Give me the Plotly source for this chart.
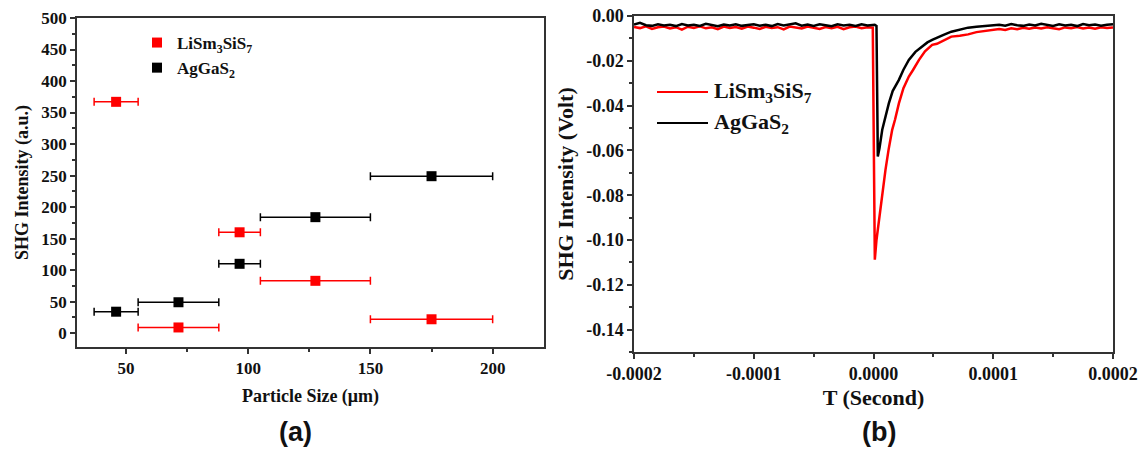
import plotly.graph_objects as go

W, H = 1141, 455

# ---------------- Panel (a): SHG intensity vs particle size ----------------
particle_size = [46, 71.5, 96.5, 127.5, 175]          # µm (range centres)
size_err = [9, 16.5, 8.5, 22.5, 25]                    # half-width of size range
lism_shg = [367, 9, 160, 83, 22]                       # LiSm3SiS7 (a.u.)
aggas_shg = [34, 49, 110, 184, 249]                    # AgGaS2 (a.u.)
a_xticks = [50, 100, 150, 200]
a_yticks = [0, 50, 100, 150, 200, 250, 300, 350, 400, 450, 500]

# ---------------- Panel (b): SHG signal traces (oscilloscope) ----------------
lism_t_us = [-200, -195, -190, -185, -180, -175, -170, -165, -160, -155,
             -150, -145, -140, -135, -130, -125, -120, -115, -110, -105,
             -100, -95, -90, -85, -80, -75, -70, -65, -60, -55,
             -50, -45, -40, -35, -30, -25, -20, -15, -10, -5, -0.6,
             1.1, 2.5, 4.5, 7, 10, 12.5, 15.6, 18, 21.2, 25, 29.5, 33, 38, 43,
             49, 53, 58, 65, 72, 79, 86, 93, 100,
             105, 110, 115, 120, 125, 130, 135, 140, 145, 150,
             155, 160, 165, 170, 175, 180, 185, 190, 195, 200]
lism_volt = [-0.0049, -0.0054, -0.0046, -0.0058, -0.0050, -0.0047, -0.0056, -0.0050, -0.0061, -0.0048,
             -0.0053, -0.0046, -0.0055, -0.0050, -0.0059, -0.0047, -0.0053, -0.0049, -0.0057, -0.0047,
             -0.0052, -0.0058, -0.0048, -0.0054, -0.0050, -0.0060, -0.0047, -0.0052, -0.0056, -0.0047,
             -0.0051, -0.0058, -0.0049, -0.0054, -0.0048, -0.0059, -0.0050, -0.0047, -0.0055, -0.0050, -0.0052,
             -0.1088, -0.1000, -0.0910, -0.0800, -0.0687, -0.0600, -0.0508, -0.0462, -0.0390, -0.0322,
             -0.0270, -0.0241, -0.0196, -0.0158, -0.0129, -0.0124, -0.0110, -0.0092, -0.0088, -0.0082,
             -0.0072, -0.0066, -0.0063,
             -0.0058, -0.0062, -0.0055, -0.0059, -0.0053, -0.0057, -0.0051, -0.0056, -0.0050, -0.0055,
             -0.0059, -0.0051, -0.0055, -0.0049, -0.0056, -0.0051, -0.0057, -0.0050, -0.0054, -0.0051]

aggas_t_us = [-200, -195, -190, -185, -180, -175, -170, -165, -160, -155,
              -150, -145, -140, -135, -130, -125, -120, -115, -110, -105,
              -100, -95, -90, -85, -80, -75, -70, -65, -60, -55,
              -50, -45, -40, -35, -30, -25, -20, -15, -10, -5,
              1, 2.5, 3.6, 5, 7.3, 10, 12.8, 16, 21.2, 25, 29.5, 35, 40.7, 45,
              49, 54, 58, 65, 72, 79, 86, 94, 100,
              105, 110, 115, 120, 125, 130, 135, 140, 145, 150,
              155, 160, 165, 170, 175, 180, 185, 190, 195, 200]
aggas_volt = [-0.0038, -0.0030, -0.0041, -0.0044, -0.0037, -0.0042, -0.0039, -0.0045, -0.0036, -0.0042,
              -0.0039, -0.0044, -0.0035, -0.0041, -0.0046, -0.0038, -0.0042, -0.0037, -0.0044, -0.0040,
              -0.0037, -0.0043, -0.0039, -0.0045, -0.0036, -0.0042, -0.0039, -0.0033, -0.0043, -0.0038,
              -0.0044, -0.0037, -0.0041, -0.0046, -0.0037, -0.0042, -0.0039, -0.0044, -0.0037, -0.0042,
              -0.0039, -0.0044, -0.0627, -0.0590, -0.0508, -0.0445, -0.0390, -0.0335, -0.0285, -0.0240,
              -0.0196, -0.0160, -0.0137, -0.0118, -0.0107, -0.0094, -0.0085, -0.0070, -0.0062, -0.0052,
              -0.0048, -0.0044, -0.0041,
              -0.0039, -0.0043, -0.0036, -0.0041, -0.0044, -0.0038, -0.0042, -0.0035, -0.0040, -0.0044,
              -0.0037, -0.0042, -0.0039, -0.0045, -0.0036, -0.0041, -0.0038, -0.0043, -0.0039, -0.0037]
b_xticks = [-0.0002, -0.0001, 0.0, 0.0001, 0.0002]
b_xticktext = ["-0.0002", "-0.0001", "0.0000", "0.0001", "0.0002"]
b_yticks = [0.0, -0.02, -0.04, -0.06, -0.08, -0.10, -0.12, -0.14]
b_yticktext = ["0.00", "-0.02", "-0.04", "-0.06", "-0.08", "-0.10", "-0.12", "-0.14"]

names = ["LiSm<sub>3</sub>SiS<sub>7</sub>", "AgGaS<sub>2</sub>"]
RED, BLACK = "#ff0000", "#000000"
SERIF = "Liberation Serif"
AXC = "#333333"

fig = go.Figure()

# panel (a)
for yv, col, nm in [(lism_shg, RED, names[0]), (aggas_shg, BLACK, names[1])]:
    fig.add_trace(go.Scatter(
        x=particle_size, y=yv, mode="markers", name=nm,
        marker=dict(symbol="square", size=10, color=col),
        error_x=dict(type="data", array=size_err, color=col, thickness=1.5, width=4),
        xaxis="x", yaxis="y", legend="legend"))

# panel (b)
for tt, vv, col in [(lism_t_us, lism_volt, RED), (aggas_t_us, aggas_volt, BLACK)]:
    fig.add_trace(go.Scatter(
        x=[t * 1e-6 for t in tt], y=vv, mode="lines",
        line=dict(color=col, width=2.5), showlegend=False,
        xaxis="x2", yaxis="y2"))

tf17 = dict(family=SERIF, size=17, color="#111", weight="bold")
tf18 = dict(family=SERIF, size=18, color="#111", weight="bold")
common = dict(showline=True, mirror=True, linecolor=AXC, linewidth=1.5,
              ticks="outside", ticklen=5, tickwidth=1.5, tickcolor=AXC,
              showgrid=False, zeroline=False, automargin=False)
minor_a = dict(ticks="outside", ticklen=3, tickcolor=AXC, tickwidth=1.5)

fig.update_layout(
    width=W, height=H, margin=dict(l=0, r=0, t=0, b=0),
    paper_bgcolor="white", plot_bgcolor="white",
    xaxis=dict(domain=[77 / W, 544 / W], range=[30, 221], anchor="y",
               tickmode="array", tickvals=a_xticks, tickfont=tf17,
               minor=dict(tickmode="array", tickvals=[75, 125, 175], **minor_a),
               title=dict(text="Particle Size (μm)", standoff=12,
                          font=dict(family=SERIF, size=18, color="#111", weight="bold")),
               **common),
    yaxis=dict(domain=[1 - 347 / H, 1 - 18 / H], range=[-22, 500], anchor="x",
               tickmode="array", tickvals=a_yticks, tickfont=tf17,
               minor=dict(tickmode="array", tickvals=[25, 75, 125, 175, 225, 275, 325, 375, 425, 475], **minor_a),
               title=dict(text="SHG Intensity (a.u.)", standoff=8,
                          font=dict(family=SERIF, size=18, color="#111", weight="bold")),
               **common),
    xaxis2=dict(domain=[634 / W, 1113 / W], range=[-0.0002, 0.0002], anchor="y2",
                tickmode="array", tickvals=b_xticks, ticktext=b_xticktext, tickfont=tf18,
                minor=dict(tickmode="array", tickvals=[-0.00015, -0.00005, 0.00005, 0.00015], **minor_a),
                title=dict(text="T (Second)", standoff=6,
                           font=dict(family=SERIF, size=22, color="#111", weight="bold")),
                **common),
    yaxis2=dict(domain=[1 - 352 / H, 1 - 16 / H], range=[-0.15, 0], anchor="x2",
                tickmode="array", tickvals=b_yticks, ticktext=b_yticktext, tickfont=tf18,
                minor=dict(tickmode="array", tickvals=[-0.01, -0.03, -0.05, -0.07, -0.09, -0.11, -0.13, -0.15], **minor_a),
                title=dict(text="SHG Intensity (Volt)", standoff=6,
                           font=dict(family=SERIF, size=22, color="#111", weight="bold")),
                **common),
    legend=dict(x=137 / W, y=1 - 25 / H, xanchor="left", yanchor="top",
                bgcolor="rgba(0,0,0,0)", borderwidth=0, tracegroupgap=0,
                font=dict(family=SERIF, size=17, color="#111", weight="bold")),
    showlegend=True,
)

# legend for panel (b): line samples + labels
leg_rows = [(92, RED, names[0]), (123, BLACK, names[1])]
for yy, col, nm in leg_rows:
    fig.add_shape(type="line", xref="paper", yref="paper",
                  x0=657 / W, x1=708 / W, y0=1 - yy / H, y1=1 - yy / H,
                  line=dict(color=col, width=2))
    fig.add_annotation(x=712 / W, y=1 - yy / H, xref="paper", yref="paper",
                       text=nm, showarrow=False, xanchor="left", yanchor="middle",
                       font=dict(family=SERIF, size=22, color="#111", weight="bold"))

# panel labels
for lab, xx in [("(a)", 295), ("(b)", 879)]:
    fig.add_annotation(x=xx / W, y=1 - 432 / H, xref="paper", yref="paper",
                       text=lab, showarrow=False, xanchor="center", yanchor="middle",
                       font=dict(family="Liberation Sans", size=27, color="#111", weight="bold"))

fig.write_html("out.html", config={"displayModeBar": False},
               post_script="document.body.style.margin='0';")
